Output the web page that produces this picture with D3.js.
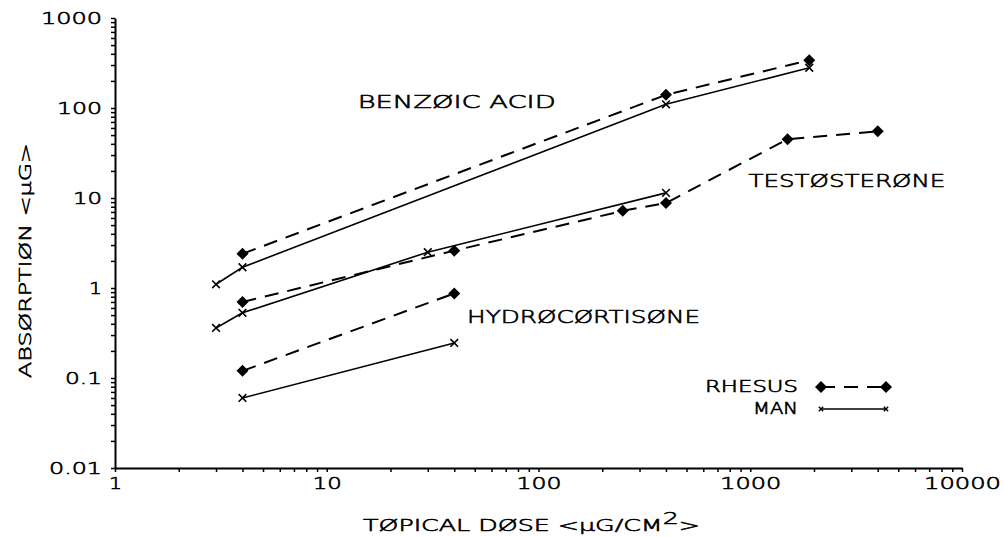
<!DOCTYPE html>
<html lang="en">
<head>
    <meta charset="UTF-8">
    <title>Topical Dose vs Absorption</title>
    <script src="https://d3js.org/d3.v7.min.js"></script>
    <style>
        body {
            margin: 0;
            padding: 0;
            background-color: #fff;
        }

        svg {
            display: block;
        }

        text {
            font-family: 'DejaVu Sans', sans-serif;
            font-weight: 200;
            fill: #000;
            stroke: #000;
            stroke-width: 0.6px;
        }
    </style>
</head>
<body>
    <script>
        const width = 1004;
        const height = 537;

        // Values (dose in ug/cm2, absorption in ug)
        const benzoicRhesusDose = [4, 400, 1900];
        const benzoicRhesus = [2.4, 140, 340];
        const benzoicManDose = [3, 4, 400, 1900];
        const benzoicMan = [1.1, 1.7, 110, 280];

        const testoRhesusDose = [4, 40, 250, 400, 1500, 4000];
        const testoRhesus = [0.7, 2.6, 7.2, 8.8, 45, 55];
        const testoManDose = [3, 4, 30, 400];
        const testoMan = [0.36, 0.53, 2.5, 11.4];

        const hydroRhesusDose = [4, 40];
        const hydroRhesus = [0.12, 0.87];
        const hydroManDose = [4, 40];
        const hydroMan = [0.06, 0.245];

        const xTickLabels = ["1", "10", "100", "1000", "10000"];
        const yTickLabels = ["0.01", "0.1", "1", "10", "100", "1000"];

        // label text anchored at data coordinates
        const compoundLabels = [
            { text: "BENZØIC ACID", dose: 14, value: 100, span: 198 },
            { text: "TESTØSTERØNE", dose: 980, value: 13.3, span: 197 },
            { text: "HYDRØCØRTISØNE", dose: 46, value: 0.41, span: 233 }
        ];

        const zip = (xs, ys) => xs.map((d, i) => ({ dose: d, value: ys[i] }));
        const series = [
            { species: "rhesus", points: zip(benzoicRhesusDose, benzoicRhesus) },
            { species: "man", points: zip(benzoicManDose, benzoicMan) },
            { species: "rhesus", points: zip(testoRhesusDose, testoRhesus) },
            { species: "man", points: zip(testoManDose, testoMan) },
            { species: "rhesus", points: zip(hydroRhesusDose, hydroRhesus) },
            { species: "man", points: zip(hydroManDose, hydroMan) }
        ];

        const svg = d3.select("body").append("svg")
            .attr("width", width)
            .attr("height", height);

        const x = d3.scaleLog().domain([1, 10000]).range([115, 962]);
        const y = d3.scaleLog().domain([0.01, 1000]).range([468, 18]);

        // plotter-ish wide lettering: stretch each string
        function charWidth(s) {
            let w = 0;
            for (const c of s) w += (c === ".") ? 8 : 16;
            return w - 3;
        }

        function minorTicks(domain) {
            const ticks = [];
            for (let e = Math.log10(domain[0]); e < Math.log10(domain[1]); e++) {
                for (let m = 1; m < 10; m++) ticks.push(m * Math.pow(10, e));
            }
            ticks.push(domain[1]);
            return ticks;
        }

        const isDecade = v => Math.abs(Math.log10(v) - Math.round(Math.log10(v))) < 1e-9;

        // x axis
        const xAxis = svg.append("g")
            .attr("transform", `translate(0,${y(0.01)})`)
            .call(d3.axisBottom(x)
                .tickValues(minorTicks([1, 10000]))
                .tickSize(4)
                .tickSizeOuter(0)
                .tickPadding(6)
                .tickFormat(d => isDecade(d) ? xTickLabels[Math.round(Math.log10(d))] : ""));

        // y axis
        const yAxis = svg.append("g")
            .attr("transform", `translate(${x(1)},0)`)
            .call(d3.axisLeft(y)
                .tickValues(minorTicks([0.01, 1000]))
                .tickSize(4)
                .tickSizeOuter(0)
                .tickPadding(9)
                .tickFormat(d => isDecade(d) ? yTickLabels[Math.round(Math.log10(d)) + 2] : ""));

        [xAxis, yAxis].forEach(ax => {
            ax.select(".domain").attr("stroke-width", 2);
            ax.selectAll(".tick line").attr("stroke-width", 1.5);
            ax.selectAll(".tick text")
                .attr("font-size", 16)
                .attr("font-family", "'DejaVu Sans', sans-serif")
                .filter(function () { return this.textContent.length > 0; })
                .attr("textLength", function () { return charWidth(this.textContent); })
                .attr("lengthAdjust", "spacingAndGlyphs");
        });
        yAxis.selectAll(".tick text").attr("dy", "0.36em");

        // axis titles
        const xTitle = svg.append("text")
            .attr("x", 363)
            .attr("y", 531)
            .attr("font-size", 16)
            .attr("textLength", 337)
            .attr("lengthAdjust", "spacingAndGlyphs");
        xTitle.append("tspan").text("TØPICAL DØSE <μG/CM");
        xTitle.append("tspan").attr("dy", -7).text("2");
        xTitle.append("tspan").attr("dy", 7).text(">");

        svg.append("text")
            .attr("transform", "translate(31,378) rotate(-90)")
            .attr("font-size", 16)
            .attr("textLength", 235)
            .attr("lengthAdjust", "spacingAndGlyphs")
            .text("ABSØRPTIØN <μG>");

        // data lines
        const line = d3.line()
            .x(d => x(d.dose))
            .y(d => y(d.value));

        const diamond = d3.symbol().type(d3.symbolSquare).size(72);
        const cross = d3.symbol().type(d3.symbolTimes).size(40);

        series.forEach(s => {
            const rhesus = s.species === "rhesus";
            svg.append("path")
                .datum(s.points)
                .attr("d", line)
                .attr("fill", "none")
                .attr("stroke", "#000")
                .attr("stroke-width", rhesus ? 2 : 1.6)
                .attr("stroke-dasharray", rhesus ? "14,9" : null);

            svg.selectAll(null)
                .data(s.points)
                .enter()
                .append("path")
                .attr("transform", d => `translate(${x(d.dose)},${y(d.value)})` + (rhesus ? " rotate(45)" : ""))
                .attr("d", rhesus ? diamond : cross)
                .attr("fill", rhesus ? "#000" : "none")
                .attr("stroke", "#000")
                .attr("stroke-width", rhesus ? 0 : 1.6);
        });

        // compound labels
        svg.selectAll(".compound")
            .data(compoundLabels)
            .enter()
            .append("text")
            .attr("class", "compound")
            .attr("x", d => x(d.dose))
            .attr("y", d => y(d.value))
            .attr("font-size", 18)
            .attr("textLength", d => d.span)
            .attr("lengthAdjust", "spacingAndGlyphs")
            .text(d => d.text);

        // legend
        const legend = svg.append("g");
        const legendRows = [
            { name: "RHESUS", species: "rhesus", y: 387 },
            { name: "MAN", species: "man", y: 409 }
        ];
        legendRows.forEach(r => {
            const rhesus = r.species === "rhesus";
            legend.append("text")
                .attr("x", 798)
                .attr("y", r.y + 5)
                .attr("text-anchor", "end")
                .attr("font-size", 15)
                .attr("textLength", charWidth(r.name))
                .attr("lengthAdjust", "spacingAndGlyphs")
                .text(r.name);
            legend.append("line")
                .attr("x1", 821).attr("x2", 886)
                .attr("y1", r.y).attr("y2", r.y)
                .attr("stroke", "#000")
                .attr("stroke-width", rhesus ? 2 : 1.6)
                .attr("stroke-dasharray", rhesus ? "14,9" : null);
            [821, 886].forEach(px => {
                legend.append("path")
                    .attr("transform", `translate(${px},${r.y})` + (rhesus ? " rotate(45)" : ""))
                    .attr("d", rhesus ? diamond() : d3.symbol().type(d3.symbolTimes).size(14)())
                    .attr("fill", rhesus ? "#000" : "none")
                    .attr("stroke", "#000")
                    .attr("stroke-width", rhesus ? 0 : 1.4);
            });
        });
    </script>
</body>
</html>
